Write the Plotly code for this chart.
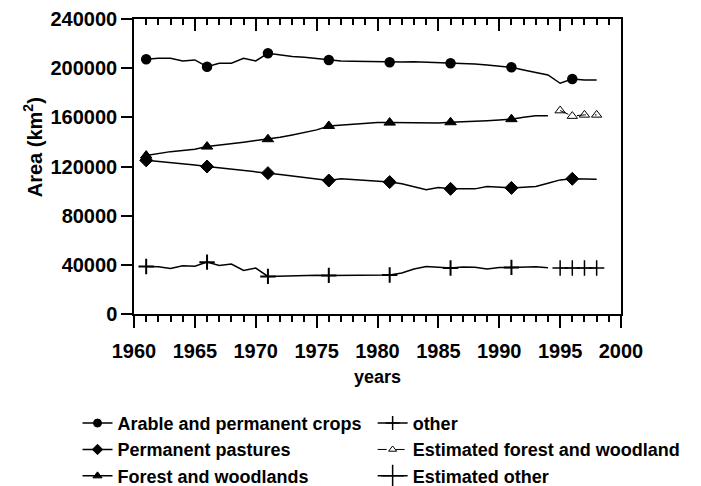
import plotly.graph_objects as go

years = list(range(1961, 1999))
marker_years = [1961, 1966, 1971, 1976, 1981, 1986, 1991, 1996]

arable = [207200, 208000, 208000, 205900, 206700, 201200, 204000, 204000, 208000, 205900,
          212100, 210700, 209400, 208900, 208000, 206700, 205900, 205600, 205300, 205000,
          204800, 205000, 205300, 205000, 204500, 204000, 204000, 203400, 202600, 201800,
          200700, 198500, 196300, 194500, 187700, 191200, 190400, 190400]

pastures = [125000, 124200, 123300, 122300, 121200, 120000, 119000, 118000, 116900, 115800,
            114600, 113500, 112300, 111000, 109900, 108600, 110000, 109400, 108800, 108000,
            107300, 106000, 103200, 101000, 102900, 101800, 101800, 101800, 103700, 103200,
            102600, 103200, 103700, 106400, 109100, 110000, 109700, 109700]

forest_years = list(range(1961, 1995))
forest = [128900, 130800, 132100, 133000, 134100, 136200, 137600, 138900, 139800, 141100,
          142200, 143800, 145700, 147600, 149800, 153000, 153600, 154700, 155200, 155700,
          155700, 155700, 155200, 155200, 155400, 156000, 156300, 156500, 157300, 157900,
          158500, 160100, 161200, 161200]

other_years = list(range(1961, 1995))
other = [38700, 38400, 37100, 39300, 38900, 42200, 39500, 40600, 35400, 37400,
         30600, 30800, 31300, 31700, 31500, 31400, 31500, 31200, 31400, 31500,
         31700, 33300, 36600, 38700, 38200, 37400, 38200, 38000, 36700, 37900,
         37900, 38200, 38400, 37700]

est_years = [1995, 1996, 1997, 1998]
est_forest = [165500, 161000, 162000, 162000]
est_other = [37400, 37400, 37400, 37400]

labels_left = ["Arable and permanent crops", "Permanent pastures", "Forest and woodlands"]
labels_right = ["other", "Estimated forest and woodland", "Estimated other"]

BLACK = "black"


def pick(xs, ys, keep):
    sel = [(x, y) for x, y in zip(xs, ys) if x in keep]
    return [s[0] for s in sel], [s[1] for s in sel]


series = [
    (years, arable, "circle", 9, 1.5),
    (years, pastures, "diamond", 10, 1),
    (forest_years, forest, "triangle-up", 10, 1),
    (other_years, other, "cross-thin", 11, 2),
]

fig = go.Figure()

# annual lines, markers every 5 years
for xs, ys, sym, sz, lw in series:
    fig.add_trace(go.Scatter(x=xs, y=ys, mode="lines", showlegend=False,
                             line=dict(color=BLACK, width=1.5)))
    mx, my = pick(xs, ys, marker_years)
    fig.add_trace(go.Scatter(x=mx, y=my, mode="markers", showlegend=False,
                             marker=dict(symbol=sym, size=sz, color=BLACK,
                                         line=dict(color=BLACK, width=lw))))

fig.add_trace(go.Scatter(x=est_years, y=est_forest, mode="lines+markers", showlegend=False,
                         line=dict(color=BLACK, width=1, dash="dash"),
                         marker=dict(symbol="triangle-up-open", size=9, color=BLACK,
                                     line=dict(color=BLACK, width=1))))
fig.add_trace(go.Scatter(x=est_years, y=est_other, mode="lines+markers", showlegend=False,
                         line=dict(color=BLACK, width=1),
                         marker=dict(symbol="cross-thin", size=11, color=BLACK,
                                     line=dict(color=BLACK, width=1.5))))

# legend entries, two columns = two legends
legend_style = {
    "Arable and permanent crops": dict(symbol="circle", size=8, lwm=1, dash="solid", lw=1.5),
    "Permanent pastures": dict(symbol="diamond", size=8, lwm=1, dash="solid", lw=1.5),
    "Forest and woodlands": dict(symbol="triangle-up", size=8, lwm=1, dash="solid", lw=1.5),
    "other": dict(symbol="cross-thin", size=10, lwm=1.5, dash="solid", lw=1.5),
    "Estimated forest and woodland": dict(symbol="triangle-up-open", size=7, lwm=1, dash="dash", lw=1),
    "Estimated other": dict(symbol="cross-thin", size=16, lwm=1.5, dash="solid", lw=1.5),
}
for leg, names in (("legend", labels_left), ("legend2", labels_right)):
    for name in names:
        st = legend_style[name]
        fig.add_trace(go.Scatter(x=[None], y=[None], mode="lines+markers", name=name,
                                 legend=leg,
                                 line=dict(color=BLACK, width=st["lw"], dash=st["dash"]),
                                 marker=dict(symbol=st["symbol"], size=st["size"], color=BLACK,
                                             line=dict(color=BLACK, width=st["lwm"]))))

# top axis with inward ticks
fig.add_trace(go.Scatter(x=[None], y=[None], xaxis="x2", showlegend=False))

fnt = "Liberation Sans, Arial, sans-serif"

fig.update_layout(
    width=701, height=486,
    margin=dict(l=134, r=80, t=19, b=172, autoexpand=False),
    paper_bgcolor="white", plot_bgcolor="white",
    font=dict(family=fnt, size=18, color=BLACK, weight="bold"),
    xaxis=dict(range=[1960, 2000], tick0=1960, dtick=5, ticks="outside", ticklen=12,
               tickwidth=1.5, tickcolor=BLACK, showline=True, linewidth=1.5, linecolor=BLACK,
               mirror=True, showgrid=False, zeroline=False, automargin=False,
               tickfont=dict(size=20), ticklabelstandoff=6,
               minor=dict(dtick=1, tick0=1960, ticks="outside", ticklen=6, tickwidth=1.5,
                          tickcolor=BLACK, showgrid=False),
               title=dict(text="years", font=dict(size=18), standoff=10)),
    xaxis2=dict(range=[1960, 2000], overlaying="x", side="top", anchor="y", tick0=1960, dtick=5,
                ticks="inside", ticklen=12, tickwidth=1.5, tickcolor=BLACK, automargin=False,
                showticklabels=False, showline=False, showgrid=False, zeroline=False,
                minor=dict(dtick=1, tick0=1960, ticks="inside", ticklen=6, tickwidth=1.5,
                           tickcolor=BLACK, showgrid=False)),
    yaxis=dict(range=[0, 240000], dtick=40000, tickformat="d", ticks="outside", ticklen=11,
               tickwidth=1.5, tickcolor=BLACK, showline=True, linewidth=1.5, linecolor=BLACK,
               mirror=True, showgrid=False, zeroline=False, automargin=False,
               tickfont=dict(size=20)),
    legend=dict(orientation="v", x=-0.116, y=-0.308, xanchor="left", yanchor="top",
                traceorder="normal", font=dict(size=18), bgcolor="rgba(0,0,0,0)"),
    legend2=dict(orientation="v", x=0.49, y=-0.308, xanchor="left", yanchor="top",
                 traceorder="normal", font=dict(size=18), bgcolor="rgba(0,0,0,0)"),
    annotations=[dict(text="Area (km<sup>2</sup>)", xref="paper", yref="paper",
                      x=-0.209, y=0.566, xanchor="center", yanchor="middle",
                      textangle=-90, showarrow=False, font=dict(size=20))],
)

fig.write_html("out.html", config={"displayModeBar": False},
               post_script="document.body.style.margin='0';")
